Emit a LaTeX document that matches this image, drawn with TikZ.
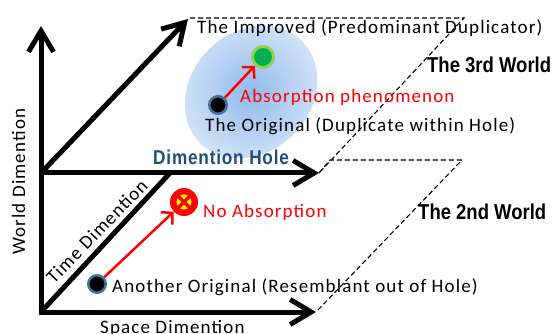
\documentclass[tikz,border=0pt]{standalone}
\usepackage{fontspec}
\usetikzlibrary{arrows.meta}
\newfontfamily\cfont{Carlito}[LetterSpace=6]
\newfontfamily\hfont{Liberation Sans}[FakeStretch=0.86]
\newfontfamily\hfontb{Liberation Sans}[FakeStretch=0.86,LetterSpace=4]
\definecolor{holeblue}{RGB}{31,78,121}
\definecolor{ringblue}{RGB}{65,113,156}
\definecolor{grnfill}{RGB}{0,176,80}
\definecolor{grnring}{RGB}{146,208,80}
\definecolor{holein}{RGB}{145,186,235}
\definecolor{holeout}{RGB}{212,228,248}
\begin{document}
\begin{tikzpicture}[x=1pt,y=-1pt,
  axis/.style={line width=5pt,line join=miter,-{Straight Barb[length=21pt,width=25pt]}},
  plainaxis/.style={line width=5pt},
  guide/.style={line width=1.1pt,dash pattern=on 5pt off 3pt},
  lbl/.style={font=\cfont\fontsize{19}{21}\selectfont,inner sep=0pt},
  hdr/.style={font=\hfont\bfseries\fontsize{21.5}{24}\selectfont,inner sep=0pt},
  redarrow/.style={red,line width=2.5pt,-{Straight Barb[length=8pt,width=17pt]}},
  dot/.style={circle,fill=black,draw=ringblue,line width=2.5pt,minimum size=17.5pt,inner sep=0pt},
  gdot/.style={circle,fill=grnfill,draw=grnring,line width=3pt,minimum size=21pt,inner sep=0pt},
  xdot/.style={circle,fill=red,minimum size=28pt,inner sep=0pt},
]
\useasboundingbox (0,0) rectangle (555,334);
% hole
\shade[inner color=holein,outer color=holeout,rotate around={45:(251,92)}] (251,92) ellipse (72 and 60);
% coordinates
\coordinate (O) at (41,312);
\coordinate (Obot) at (41,314.5);
\coordinate (Oleft) at (38.5,312);
\coordinate (Vtop) at (41,26);
\coordinate (Sx) at (316,312);
\coordinate (M) at (41,173);
\coordinate (Mx) at (319,173);
\coordinate (Dtop) at (188,19);
\coordinate (Tend) at (170,173);
\coordinate (P1) at (190,18);
\coordinate (P2) at (464,18);
\coordinate (Q1) at (330,160);
\coordinate (Q2) at (462,160);
% dashed world outlines
\draw[guide] (P1) -- (P2) -- (Mx);
\draw[guide] (Mx) -- (Q1) -- (Q2) -- (Sx);
% axes
\draw[axis] (Obot) -- (Vtop);
\draw[axis] (Oleft) -- (Sx);
\draw[axis] (M) -- (Mx);
\draw[axis] (M) -- (Dtop);
\draw[plainaxis] (O) -- (Tend);
% markers
\node[dot] (orig) at (218,105) {};
\node[gdot] (impr) at (263,57) {};
\node[dot] (another) at (97,284) {};
\node[xdot] (noabs) at (184,202) {};
\fill[yellow] (noabs.center) circle (7.5);
\draw[red,line width=3.5pt] ([shift={(-6,-6)}]noabs.center) -- ([shift={(6,6)}]noabs.center);
\draw[red,line width=3.5pt] ([shift={(-6,6)}]noabs.center) -- ([shift={(6,-6)}]noabs.center);
\draw[redarrow] (orig) -- (impr);
\draw[redarrow] (another) -- (noabs);
% texts
\node[lbl,anchor=base west] (timpr) at (197,34) {The Improved (Predominant Duplicator)};
\node[lbl,anchor=base west,text=red] (tabs) at (240,103) {Absorption phenomenon};
\node[lbl,anchor=base west] (torig) at (205,132) {The Original (Duplicate within Hole)};
\node[anchor=base west,inner sep=0pt,text=holeblue,font=\hfontb\bfseries\fontsize{20}{24}\selectfont] (thole) at (153,165) {Dimention Hole};
\node[hdr,anchor=base west] (t3) at (427,73) {The 3rd World};
\node[lbl,anchor=base west,text=red] (tno) at (203,218) {No Absorption};
\node[hdr,anchor=base west] (t2) at (418,220) {The 2nd World};
\node[lbl,anchor=base west] (tanother) at (112,293) {Another Original (Resemblant out of Hole)};
\node[lbl,anchor=base west] (tspace) at (100,333) {Space Dimention};
\node[lbl,anchor=base west,rotate=90] (tworld) at (25,255) {World Dimention};
\node[lbl,anchor=base west,rotate=46] (ttime) at (54,285) {Time Dimention};
\end{tikzpicture}
\end{document}
